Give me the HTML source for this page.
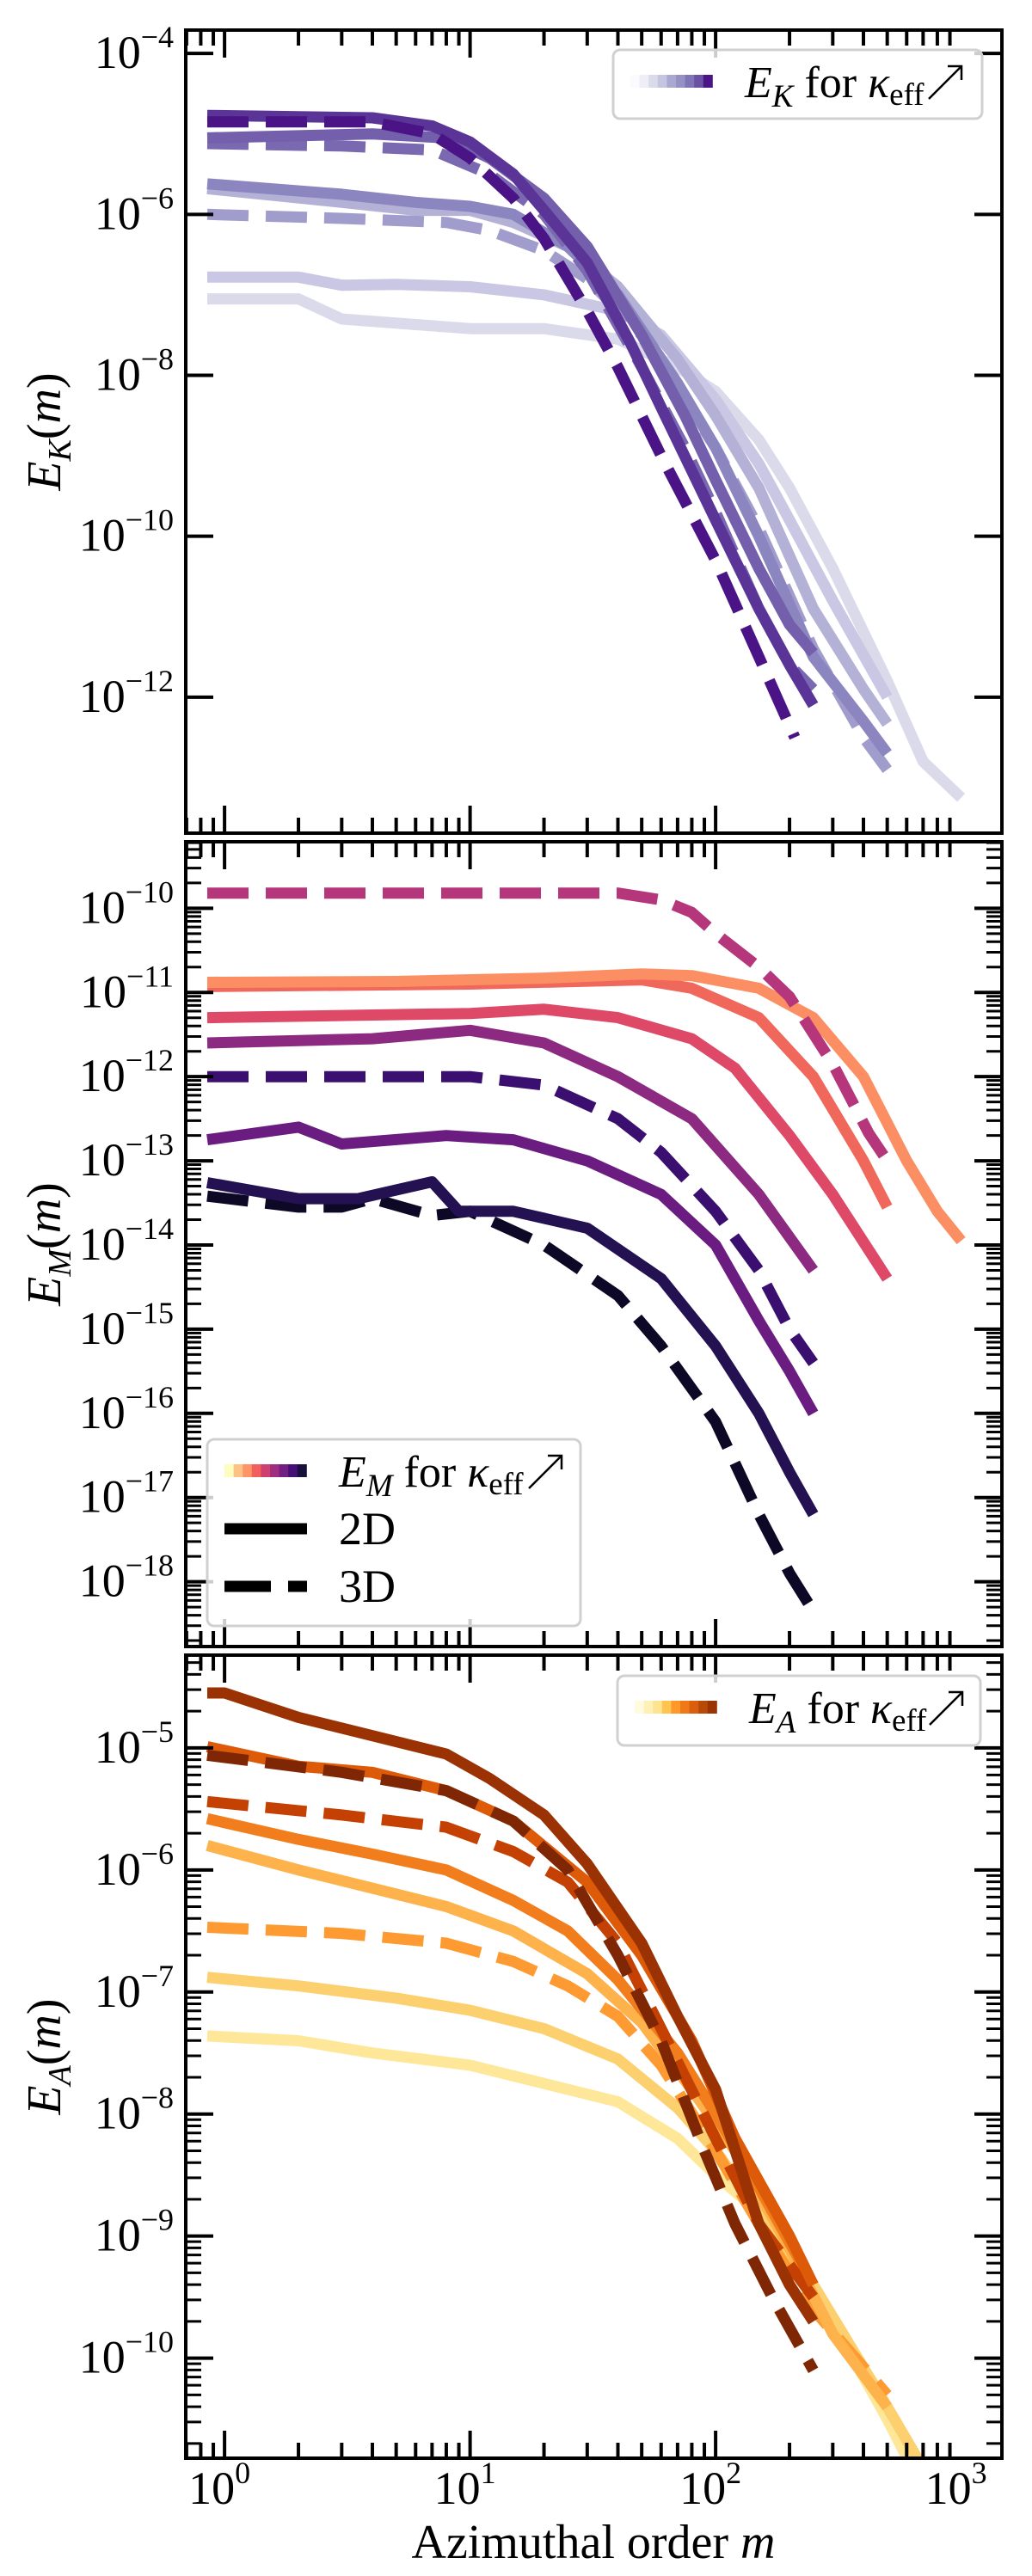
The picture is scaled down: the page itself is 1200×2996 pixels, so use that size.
<!DOCTYPE html>
<html><head><meta charset="utf-8">
<style>
html,body{margin:0;padding:0;background:#fff;}
svg{display:block;}
text{font-family:"Liberation Serif","DejaVu Serif",serif;fill:#000;}
</style></head>
<body>
<svg id="fig" width="1200" height="2996" viewBox="0 0 1200 2996" xmlns="http://www.w3.org/2000/svg"></svg>
<script>
// ---------- data (m, log10 E) ----------
const ekDarkSolid = [[0.85,-4.77],[4,-4.8],[7,-4.9],[10,-5.1],[15,-5.5],[20,-5.95],[30,-6.6],[45,-7.6],[60,-8.4],[100,-9.8],[150,-10.9],[200,-11.6],[250,-12.1]];
const ekDarkDash = [[0.85,-4.85],[4,-4.85],[7,-5.0],[10,-5.3],[15,-5.8],[20,-6.3],[30,-7.2],[40,-7.9],[60,-9.0],[100,-10.3],[150,-11.5],[210,-12.5]];
const ekMidSolid = [[0.85,-5.05],[4,-5.0],[8,-5.05],[12,-5.3],[20,-5.8],[30,-6.4],[50,-7.5],[75,-8.5],[100,-9.3],[150,-10.4],[200,-11.1],[250,-11.45]];
const ekMidDash = [[0.85,-5.12],[3,-5.15],[7,-5.2],[12,-5.5],[20,-6.0],[30,-6.7],[50,-7.9],[75,-8.9],[100,-9.7],[150,-10.9],[200,-11.6],[250,-11.9]];
const ekLightSolid = [[0.85,-5.62],[3,-5.75],[6,-5.85],[10,-5.9],[15,-6.0],[25,-6.4],[40,-7.0],[70,-8.1],[100,-8.9],[150,-10.0],[250,-11.5],[400,-12.3],[500,-12.7]];
const ekLightDash = [[0.85,-6.0],[3,-6.05],[8,-6.1],[12,-6.2],[20,-6.45],[30,-6.8],[50,-7.5],[100,-8.9],[150,-9.9],[250,-11.4],[400,-12.5],[500,-12.9]];
const ekPaleSolid = [[0.85,-5.68],[3,-5.85],[6,-5.95],[10,-5.95],[15,-6.1],[25,-6.4],[40,-6.9],[70,-7.8],[100,-8.5],[150,-9.4],[250,-10.9],[400,-11.9],[500,-12.33]];
const ekPalerSolid = [[0.85,-6.78],[2,-6.78],[3,-6.88],[5,-6.87],[10,-6.9],[20,-7.0],[40,-7.2],[60,-7.5],[100,-8.3],[150,-9.1],[200,-9.8],[300,-10.8],[500,-12.0]];
const ekPalestSolid = [[0.85,-7.05],[2,-7.05],[3,-7.3],[6,-7.37],[10,-7.42],[20,-7.42],[40,-7.55],[70,-7.9],[100,-8.2],[150,-8.8],[200,-9.4],[300,-10.4],[500,-11.8],[700,-12.8],[1000,-13.25]];

const emMagentaDash = [[0.85,-9.82],[40,-9.82],[60,-9.9],[80,-10.05],[100,-10.3],[150,-10.7],[200,-11.05],[300,-11.85],[420,-12.67],[500,-13.0]];
const emOrangeSolid = [[0.85,-10.88],[5,-10.87],[20,-10.83],[50,-10.78],[80,-10.8],[150,-10.95],[250,-11.3],[400,-12.0],[600,-13.0],[800,-13.6],[1000,-13.95]];
const emSalmonSolid = [[0.85,-10.93],[10,-10.9],[50,-10.85],[80,-10.95],[150,-11.3],[250,-12.0],[400,-13.0],[500,-13.55]];
const emRedSolid = [[0.85,-11.3],[10,-11.25],[20,-11.2],[40,-11.3],[80,-11.55],[120,-11.9],[200,-12.7],[300,-13.4],[500,-14.4]];
const emPlumSolid = [[0.85,-11.6],[4,-11.55],[10,-11.45],[20,-11.6],[40,-12.0],[80,-12.5],[150,-13.4],[250,-14.3]];
const emIndigoDash = [[0.85,-12.0],[10,-12.0],[20,-12.1],[40,-12.5],[60,-12.9],[100,-13.6],[150,-14.3],[200,-15.0],[250,-15.4]];
const emPurpleSolid = [[0.85,-12.75],[2,-12.6],[3,-12.8],[8,-12.7],[15,-12.75],[30,-13.0],[60,-13.4],[100,-14.0],[150,-14.9],[200,-15.5],[250,-16.0]];
const emNavySolid = [[0.85,-13.26],[2,-13.45],[3.5,-13.45],[7,-13.25],[9,-13.6],[15,-13.6],[30,-13.8],[60,-14.4],[100,-15.2],[150,-16.0],[200,-16.7],[250,-17.2]];
const emBlackDash = [[0.85,-13.42],[2,-13.55],[3,-13.55],[4,-13.45],[7,-13.65],[10,-13.6],[20,-14.0],[40,-14.6],[60,-15.2],[100,-16.1],[150,-17.2],[200,-17.9],[250,-18.35]];

const eaBrownSolid = [[0.85,-4.55],[1,-4.55],[2,-4.75],[4,-4.9],[8,-5.05],[12,-5.25],[20,-5.55],[30,-5.95],[50,-6.6],[70,-7.2],[100,-7.8],[150,-8.9],[200,-9.4],[250,-9.7]];
const eaBrownDash = [[0.85,-5.06],[3,-5.2],[8,-5.35],[15,-5.6],[25,-6.0],[40,-6.7],[60,-7.4],[90,-8.3],[120,-8.9],[170,-9.5],[250,-10.1]];
const eaRustDash = [[0.85,-5.44],[3,-5.55],[8,-5.65],[15,-5.85],[25,-6.1],[40,-6.6],[60,-7.3],[100,-8.2],[150,-8.9],[250,-9.5]];
const eaRedOrangeSolid = [[0.85,-4.99],[2,-5.15],[4,-5.2],[8,-5.35],[15,-5.6],[30,-6.1],[50,-6.7],[80,-7.4],[120,-8.2],[200,-9.0],[250,-9.4]];
const eaOrangeSolid = [[0.85,-5.58],[2,-5.75],[4,-5.87],[8,-6.0],[15,-6.25],[25,-6.5],[40,-6.9],[70,-7.5],[100,-8.0],[150,-8.6],[250,-9.4]];
const eaLightOrangeSolid = [[0.85,-5.8],[2,-6.0],[4,-6.15],[8,-6.3],[15,-6.5],[30,-6.85],[50,-7.25],[80,-7.8],[120,-8.3],[200,-9.1],[300,-9.8],[500,-10.4]];
const eaOrangeDash = [[0.85,-6.47],[3,-6.52],[8,-6.6],[15,-6.75],[25,-6.95],[40,-7.2],[60,-7.6],[100,-8.3],[150,-8.9],[250,-9.6],[500,-10.3]];
const eaPaleSolid = [[0.85,-6.88],[2,-6.95],[5,-7.05],[10,-7.15],[20,-7.3],[40,-7.55],[70,-7.95],[100,-8.3],[150,-8.8],[250,-9.4],[500,-10.4],[800,-11.1]];
const eaPalestSolid = [[0.85,-7.36],[2,-7.4],[4,-7.5],[10,-7.6],[20,-7.75],[40,-7.9],[70,-8.2],[100,-8.5],[150,-8.8],[200,-9.1],[300,-9.7],[500,-10.5],[800,-11.3]];

const xTickLabels = ["0","1","2","3"];
const ekTickExps = [-4,-6,-8,-10,-12];
const emTickExps = [-10,-11,-12,-13,-14,-15,-16,-17,-18];
const eaTickExps = [-5,-6,-7,-8,-9,-10];

// ---------- layout ----------
const NS = "http://www.w3.org/2000/svg";
const svg = document.getElementById('fig');
const X0 = 216, X1 = 1165, XLMIN = -0.158, XLMAX = 3.166;
function xPx(m){ return X0 + (Math.log10(m) - XLMIN) / (XLMAX - XLMIN) * (X1 - X0); }
function mk(tag, attrs, parent){ const e = document.createElementNS(NS, tag); for (const k in attrs) e.setAttribute(k, attrs[k]); (parent||svg).appendChild(e); return e; }

const panels = [
 {key:'ek', top:35, bot:969, lmax:-3.71, lmin:-13.69, ticks:ekTickExps, minor:false, sub:'K', arrowDx:367,
  series:[
   [ekPalestSolid,'#dadaeb',0],[ekPalerSolid,'#c9c7e3',0],[ekPaleSolid,'#b4b1d7',0],[ekLightDash,'#a09dcc',1],[ekLightSolid,'#8b86c0',0],
   [ekMidDash,'#7a68b0',1],[ekMidSolid,'#735fab',0],[ekDarkSolid,'#5a3597',0],[ekDarkDash,'#4a1486',1]],
  legend:{x:713,y:58,w:429,h:80,colors:['#fbfaff','#efedf5','#dadaeb','#c6c5e1','#aaa8d0','#9591c3','#7f74b5','#6a51a3','#4a1486']}},
 {key:'em', top:979, bot:1915, lmax:-9.21, lmin:-18.77, ticks:emTickExps, minor:true, sub:'M', arrowDx:374,
  series:[
   [emBlackDash,'#0c0826',1],[emNavySolid,'#231151',0],[emPurpleSolid,'#6a1c81',0],[emIndigoDash,'#3b0f70',1],[emPlumSolid,'#8c2981',0],
   [emRedSolid,'#de4968',0],[emSalmonSolid,'#f0675c',0],[emOrangeSolid,'#fb8f63',0],[emMagentaDash,'#b5367a',1]],
  legend:{x:241,y:1674,w:434,h:217,colors:['#fcfdbf','#fec287','#fd9567','#f1605d','#cd4071','#9e2f7f','#721f81','#440f76','#180f3d']}},
 {key:'ea', top:1925, bot:2859, lmax:-4.24, lmin:-10.82, ticks:eaTickExps, minor:true, sub:'A', arrowDx:363,
  series:[
   [eaPalestSolid,'#fee799',0],[eaPaleSolid,'#fdd06f',0],[eaOrangeDash,'#fd9a32',1],[eaLightOrangeSolid,'#feb24c',0],[eaOrangeSolid,'#f17d1c',0],
   [eaRustDash,'#c44103',1],[eaRedOrangeSolid,'#dc5a08',0],[eaBrownDash,'#7f2704',1],[eaBrownSolid,'#9a3204',0]],
  legend:{x:718,y:1949,w:422,h:81,colors:['#fffbe0','#fff0b8','#fee391','#fec44f','#fe9929','#f07818','#d95f0e','#b84a07','#993404']}}
];

panels.forEach((p, pi) => {
  const g = mk('g', {});
  
  
  const yPx = l => p.top + (p.lmax - l) / (p.lmax - p.lmin) * (p.bot - p.top);
  const cp = mk('clipPath', {id:'clip'+pi}, g);
  mk('rect', {x:X0, y:p.top, width:X1-X0, height:p.bot-p.top}, cp);
  const sg = mk('g', {'clip-path':'url(#clip'+pi+')'}, g);
  p.series.forEach((s, si) => {
    const d = s[0].map((pt, i) => (i ? 'L' : 'M') + xPx(pt[0]).toFixed(1) + ' ' + yPx(pt[1]).toFixed(1)).join(' ');
    const path = mk('path', {d:d, fill:'none', stroke:s[1], 'stroke-width':13, 'stroke-linejoin':'round', 'stroke-linecap':'butt'}, sg);
    if (s[2]) path.setAttribute('stroke-dasharray', '48 20');
    
    
  });
  for (let dec = 0; dec <= 3; dec++) {
    for (let k = 1; k <= 9; k++) {
      const m = k * Math.pow(10, dec - 1);
      if (m < 0.70 || m > 1460) continue;
      const x = xPx(m), len = (k === 1) ? 32 : 18;
      mk('line', {x1:x, x2:x, y1:p.bot, y2:p.bot-len, stroke:'#000', 'stroke-width':4}, g);
      mk('line', {x1:x, x2:x, y1:p.top, y2:p.top+len, stroke:'#000', 'stroke-width':4}, g);
    }
  }
  const lo = Math.floor(p.lmin), hi = Math.ceil(p.lmax);
  for (let e = lo; e <= hi; e++) {
    const isMajor = p.ticks.indexOf(e) >= 0;
    if (isMajor) {
      const y = yPx(e);
      mk('line', {x1:X0, x2:X0+32, y1:y, y2:y, stroke:'#000', 'stroke-width':4}, g);
      mk('line', {x1:X1, x2:X1-32, y1:y, y2:y, stroke:'#000', 'stroke-width':4}, g);
      const t = mk('text', {x:202, y:y+17, 'font-size':54, 'text-anchor':'end'}, g);
      
      
      t.textContent = '10';
      const ts = mk('tspan', {'font-size':36, dy:-24}, t);
      ts.textContent = '\u2212' + Math.abs(e);
    }
    if (p.minor) {
      for (let k = 2; k <= 9; k++) {
        const l = e + Math.log10(k);
        if (l > p.lmax || l < p.lmin) continue;
        const y = yPx(l);
        mk('line', {x1:X0, x2:X0+18, y1:y, y2:y, stroke:'#000', 'stroke-width':3}, g);
        mk('line', {x1:X1, x2:X1-18, y1:y, y2:y, stroke:'#000', 'stroke-width':3}, g);
      }
    }
  }
  const fr = mk('rect', {x:X0, y:p.top, width:X1-X0, height:p.bot-p.top, fill:'none', stroke:'#000', 'stroke-width':4}, g);
  
  
  const cy = (p.top + p.bot) / 2;
  const yt = mk('text', {transform:'translate(70,' + cy + ') rotate(-90)', 'font-size':56, 'text-anchor':'middle'}, g);
  
  
  const t1 = mk('tspan', {'font-style':'italic'}, yt); t1.textContent = 'E';
  const t2 = mk('tspan', {'font-style':'italic', 'font-size':38, dy:12}, yt); t2.textContent = p.sub;
  const t3 = mk('tspan', {dy:-12}, yt); t3.textContent = '(';
  const t4 = mk('tspan', {'font-style':'italic'}, yt); t4.textContent = 'm';
  const t5 = mk('tspan', {}, yt); t5.textContent = ')';
  const L = p.legend;
  const lg = mk('g', {}, g);
  
  
  mk('rect', {x:L.x, y:L.y, width:L.w, height:L.h, rx:8, fill:'rgba(255,255,255,0.8)', stroke:'#d0d0d0', 'stroke-width':3}, lg);
  const sy = L.y + 29;
  L.colors.forEach((c, i) => mk('rect', {x:L.x + 20 + i*10.6, y:sy, width:11, height:15, fill:c}, lg));
  const lt = mk('text', {x:L.x + 153, y:sy + 26, 'font-size':52}, lg);
  
  
  const a1 = mk('tspan', {'font-style':'italic'}, lt); a1.textContent = 'E';
  const a2 = mk('tspan', {'font-style':'italic', 'font-size':37, dy:11}, lt); a2.textContent = p.sub;
  const a3 = mk('tspan', {dy:-11}, lt); a3.textContent = ' for ';
  const a4 = mk('tspan', {'font-style':'italic'}, lt); a4.textContent = '\u03ba';
  const a5 = mk('tspan', {'font-size':37, dy:9}, lt); a5.textContent = 'eff';
  const ax = L.x + p.arrowDx, ay = sy + 28;
  mk('line', {x1:ax, y1:ay, x2:ax+38, y2:ay-38, stroke:'#000', 'stroke-width':2.5}, lg);
  mk('polyline', {points:(ax+22)+','+(ay-38)+' '+(ax+38)+','+(ay-38)+' '+(ax+38)+','+(ay-22), fill:'none', stroke:'#000', 'stroke-width':2.5}, lg);
  if (p.key === 'em') {
    const e1 = mk('line', {x1:L.x+20, x2:L.x+116, y1:L.y+104, y2:L.y+104, stroke:'#000', 'stroke-width':13}, lg);
    
    
    const tx1 = mk('text', {x:L.x+153, y:L.y+122, 'font-size':54}, lg); tx1.textContent = '2D';
    const e2 = mk('line', {x1:L.x+20, x2:L.x+116, y1:L.y+171, y2:L.y+171, stroke:'#000', 'stroke-width':13, 'stroke-dasharray':'54 20'}, lg);
    
    
    const tx2 = mk('text', {x:L.x+153, y:L.y+189, 'font-size':54}, lg); tx2.textContent = '3D';
  }
});

xTickLabels.forEach((lab, i) => {
  const x = xPx(Math.pow(10, +lab));
  const t = mk('text', {x:x - 6, y:2912, 'font-size':54, 'text-anchor':'middle'});
  
  
  t.textContent = '10';
  const s = mk('tspan', {'font-size':36, dy:-24}, t); s.textContent = lab;
});
const xt = mk('text', {x:690, y:2975, 'font-size':56, 'text-anchor':'middle'});


xt.textContent = 'Azimuthal order ';
const xm = mk('tspan', {'font-style':'italic'}, xt); xm.textContent = 'm';
</script>
</body></html>
